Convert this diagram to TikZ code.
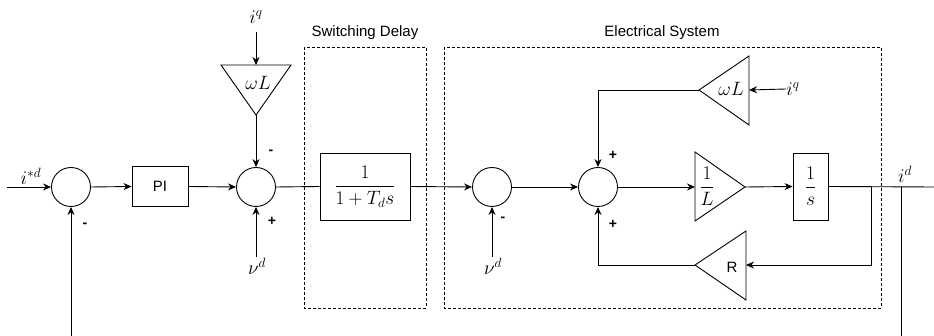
\documentclass[tikz,border=0pt]{standalone}
\usepackage{amsmath}
\usepackage{graphicx}
\usepackage[no-math]{fontspec}
\setmainfont{Liberation Sans}
\usetikzlibrary{arrows.meta}
\newcommand{\mybig}[1]{\scalebox{1.12}{#1}}
\begin{document}
\begin{tikzpicture}[x=1pt,y=-1pt,
  line width=0.9pt,
  every node/.style={font=\fontsize{15}{18}\selectfont},
  sumc/.style={draw,circle,minimum size=39pt,inner sep=0pt},
  blk/.style={draw,rectangle,inner sep=0pt},
  arr/.style={-{Stealth[length=8pt,width=7pt]}},
  dbox/.style={draw,dashed,dash pattern=on 3pt off 2pt,line width=0.8pt},
  sgn/.style={font=\fontsize{14}{16}\selectfont\bfseries,inner sep=0pt},
  mth/.style={font=\fontsize{17.28}{21}\selectfont,inner sep=0pt}]
\useasboundingbox (0,0) rectangle (934,336);

% dashed groups
\draw[dbox] (304,47) rectangle (426,308);
\draw[dbox] (444,47) rectangle (881,308);
\node (swlab) at (365,33) {Switching Delay};
\node (eslab) at (662,33) {Electrical System};

% left part
\coordinate (in) at (7,187);
\node[mth,anchor=south] (iref) at (31,185) {\mybig{$i^{*d}$}};
\node[sumc] (s1) at (71,187) {};
\node[blk,minimum width=56pt,minimum height=40pt] (pi) at (160,186.5) {PI};
\node[sumc] (s2) at (256,187) {};
\node[sgn] (m1) at (85,225) {-};
\node[sgn] (m2) at (271,152) {-};
\node[sgn] (p1) at (272,221) {+};

% top omega L (pointing down)
\coordinate (wl1in) at (256,65);
\coordinate (wl1out) at (256,115);
\draw (221,65) -- (291,65) -- (256,115) -- cycle;
\node[mth] (wl1) at (258,83) {\mybig{$\omega L$}};
\node[mth] (iq1) at (256,17) {\mybig{$i^q$}};
\coordinate (iq1s) at (256,32);
\draw[arr] (iq1s) -- (wl1in);
\draw[arr] (wl1out) -- (s2.north);

\node[mth] (vd1) at (257,266) {\mybig{$\nu^d$}};
\coordinate (vd1s) at (256,257);
\draw[arr] (vd1s) -- (s2.south);

\draw[arr] (in) -- (s1.west);
\draw[arr] (s1.east) -- (pi.west);
\draw[arr] (pi.east) -- (s2.west);

% switching delay block
\node[blk,minimum width=90pt,minimum height=67pt] (td) at (365,186.5)
  {\fontsize{17.28}{21}\selectfont\mybig{$\dfrac{1}{1+T_d s}$}};
\draw (s2.east) -- (td.west);

% electrical system
\node[sumc] (s3) at (492,187) {};
\node[sgn] (m3) at (503,219) {-};
\node[mth] (vd2) at (493,266) {\mybig{$\nu^d$}};
\coordinate (vd2s) at (492,257);
\draw[arr] (vd2s) -- (s3.south);
\draw[arr] (td.east) -- (s3.west);

\node[sumc] (s4) at (598,187) {};
\node[sgn] (p2) at (613,155) {+};
\node[sgn] (p3) at (613,224) {+};
\draw[arr] (s3.east) -- (s4.west);

% 1/L triangle
\coordinate (lin) at (695,187);
\coordinate (lout) at (745,187);
\draw (695,152) -- (745,187) -- (695,221) -- cycle;
\node[mth] (invl) at (707,186) {\mybig{$\dfrac{1}{L}$}};
\draw[arr] (s4.east) -- (lin);

% 1/s block
\node[blk,minimum width=35pt,minimum height=67pt] (int) at (810.5,186.5)
  {\fontsize{17.28}{21}\selectfont\mybig{$\dfrac{1}{s}$}};
\draw[arr] (lout) -- (int.west);

% upper omega L (pointing left)
\coordinate (wl2out) at (699,90);
\coordinate (wl2in) at (749,90);
\draw (749,56) -- (749,125) -- (699,90) -- cycle;
\node[mth] (wl2) at (731,89) {\mybig{$\omega L$}};
\node[mth,anchor=west] (iq2) at (786,89) {\mybig{$i^q$}};
\draw[arr] (iq2.west) -- (wl2in);
\draw[arr] (wl2out) -| (s4.north);

% R triangle (pointing left)
\coordinate (rout) at (695,265);
\coordinate (rin) at (746,265);
\draw (746,231) -- (746,300) -- (695,265) -- cycle;
\node (rlab) at (732,267) {R};
\coordinate (j1) at (871,187);
\draw[arr] (j1) |- (rin);
\draw[arr] (rout) -| (s4.south);

% output
\coordinate (outend) at (934,187);
\draw (int.east) -- (outend);
\node[mth] (id) at (905,174) {\mybig{$i^d$}};
\coordinate (j2) at (901,187);
\coordinate (fbr) at (901,340);
\draw (j2) -- (fbr);
\coordinate (fbl) at (71,340);
\draw[arr] (fbl) -- (s1.south);
\end{tikzpicture}
\end{document}
